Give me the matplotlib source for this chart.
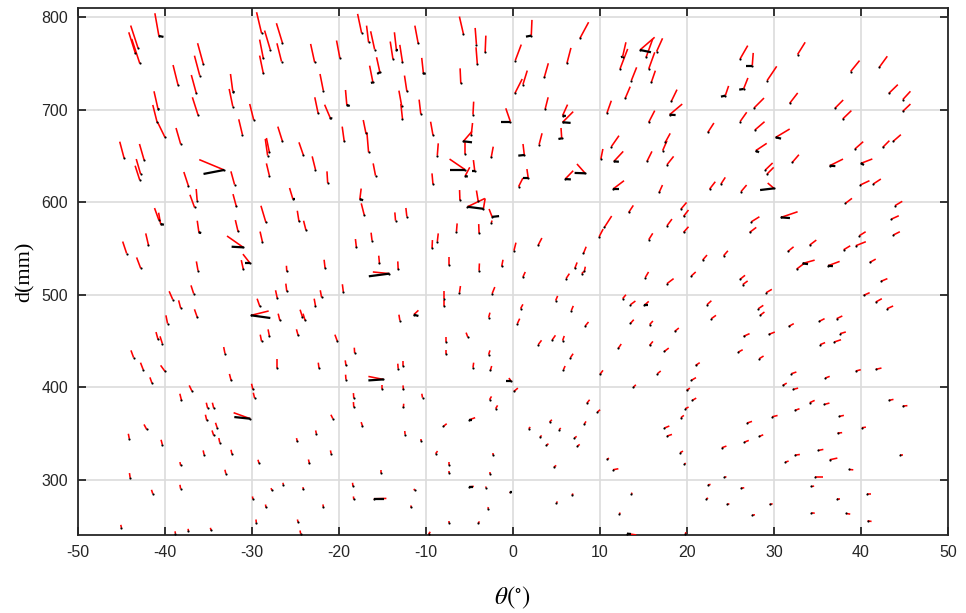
import numpy as np
import matplotlib.pyplot as plt
from matplotlib.collections import LineCollection

# vertex position (theta in deg, d in mm) and the red offset vector at each vertex
theta = [
    -40.7, -43.1, -43.4, -42.9, -35.6, -36.0, -38.5, -36.4, -32.2, -32.2,
    -36.2, -40.8, -40.9, -40.0, -38.2, -31.1, -29.8, -28.9, -27.9, -26.5,
    -28.7, -28.7, -26.6, -22.8, -19.9, -21.8, -19.1, -17.4, -22.4, -21.0,
    -26.5, -28.2, -28.0, -28.0, -24.1, -22.7, -21.3, -19.4, -16.9, -44.7,
    -42.4, -42.8, -42.9, -33.2, -32.0, -37.3, -36.3, -36.6, -31.8, -25.3,
    -28.4, -24.6, -23.8, -40.7, -40.5, -36.1, -31.6, -28.8, -41.9, -44.4,
    -42.8, -31.0, -30.2, -17.6, -17.1, -18.0, -21.6, -26.0, -31.0, -36.2,
    # -17 .. 16 deg, upper half
    -16.6, -15.9, -16.6, -13.8, -13.4, -12.7, -10.9, -15.3, -16.1, -12.2,
    -10.3, -12.8, -12.7, -10.6, -15.8, -5.7, -4.2, -3.2, -4.1, -6.0,
    -4.6, -0.3, -9.2, -4.8, -5.7, -5.5, -8.7, -2.5, -5.5, -4.4,
    -5.5, -9.2, -6.1, -5.23, -3.4, -4.0, -2.4, -2.5, -13.5, -12.2,
    -16.2, -15.35, -13.2, -6.5, -3.9, -8.7, -9.3, -7.3, -3.9, -1.3,
    2.1, 7.7, 0.26, 6.2, 3.6, 1.14, 0.22, 3.7, 5.7, 5.7,
    3.0, 5.6, 1.3, 1.75, 0.64, 8.3, 6.0, 12.6, 12.3, 13.6,
    12.9, 14.6, 15.3, 15.6, 15.9, 10.8, 15.6, 11.3, 11.6, 10.1,
    15.4, 11.5, 13.3, 10.5, 9.9, 15.6, 2.9, 0.11, 8.1, 7.1,
    8.2,
    # 16 .. 45 deg, upper half
    16.5, 26.1, 27.5, 32.7, 38.8, 42.1, 29.2, 26.5, 24.4, 18.2,
    31.8, 27.7, 18.0, 37.0, 37.9, 43.2, 44.8, 44.8, 26.1, 22.4,
    27.8, 30.2, 17.5, 17.2, 27.9, 32.1, 17.7, 29.0, 29.2, 39.3,
    43.7, 42.5, 36.4, 40.0, 16.8, 22.6, 23.9, 26.2, 30.0, 39.9,
    41.4, 38.2, 43.9, 19.3, 19.6, 17.7, 19.6, 27.4, 27.2, 30.8,
    43.5, 39.8, 43.7, 39.4, 34.1, 38.0, 31.6, 24.2, 21.8, 33.3,
    32.6, 36.2, 41.0,
    # -50 .. -17 deg, lower half
    -36.7, -39.1, -38.2, -36.3, -39.7, -40.8, -40.3, -43.6, -42.5, -40.0,
    -41.5, -26.0, -27.1, -22.0, -22.7, -19.5, -29.1, -30.1, -26.8, -24.2,
    -23.9, -28.9, -28.0, -24.7, -20.2, -33.1, -27.1, -22.3, -19.2, -18.2,
    -19.2, -32.4, -36.9, -29.9, -29.7, -38.1, -35.1, -34.4, -30.2, -35.2,
    -34.0, -34.4, -33.7, -42.1, -44.1, -40.3, -35.5, -32.3, -38.2, -33.0,
    -44.0, -41.4, -38.2, -45.0, -38.8, -37.3, -34.7, -29.2, -23.4, -20.9,
    -24.8, -22.6, -20.7, -18.3, -18.3, -17.3, -27.7, -26.4, -24.1, -18.4,
    -18.3, -29.9, -28.4, -21.8, -29.5, -24.7, -24.4,
    # -17 .. 16 deg, lower half
    -14.2, -7.9, -7.9, -6.15, -2.4, -11.4, -13.0, -2.8, -5.2, -7.7,
    -7.7, -2.8, -13.2, -12.6, -4.6, -2.6, -14.9, -15.0, -12.6, -0.2,
    0.1, -10.4, -2.7, -2.0, -12.6, -5.0, -8.0, -12.4, -10.6, -8.9,
    -2.3, -7.4, -7.4, -2.6, -15.2, -16.0, -11.3, -5.0, -3.1, -0.4,
    -11.7, -2.9, -7.3, -4.0, -9.7, 1.14, 6.1, 7.9, 15.2, 4.9,
    0.87, 6.7, 0.5, 8.3, 12.6, 13.5, 15.1, 13.5, 15.7, 2.9,
    4.5, 5.7, 6.6, 5.8, 12.1, 15.7, 10.0, 13.85, 8.5, 9.7,
    4.2, 8.2, 1.8, 5.3, 3.1, 7.05, 3.85, 7.4, 10.8, 11.5,
    4.7, 6.75, 5.0, 13.6, 12.2, 13.1,
    # 16 .. 45 deg, lower half
    17.7, 20.5, 26.1, 26.4, 29.1, 42.3, 40.3, 41.7, 43.0, 22.3,
    28.2, 28.4, 22.8, 31.7, 35.2, 37.2, 18.6, 26.5, 29.4, 37.6,
    35.3, 36.9, 17.4, 25.9, 28.3, 21.0, 16.6, 20.5, 32.0, 35.9,
    39.4, 41.7, 31.0, 32.2, 19.95, 20.6, 19.8, 19.3, 34.1, 35.8,
    43.2, 44.8, 32.4, 29.8, 37.5, 26.9, 17.4, 17.7, 28.3, 26.6,
    37.3, 40.1, 24.0, 19.2, 19.7, 32.4, 35.1, 36.4, 31.3, 38.65,
    44.45, 34.7, 24.3, 22.4, 26.2, 22.2, 24.6, 29.5, 27.5, 34.3,
    37.2, 40.7, 34.3, 38.3, 40.75, 19.8,
]

d = [
    779.8, 766.8, 761.0, 750.2, 749.5, 736.8, 726.7, 717.7, 719.5, 703.3,
    694.3, 700.8, 686.3, 670.1, 662.9, 673.0, 688.9, 782.7, 765.0, 772.2,
    755.6, 739.4, 752.0, 751.3, 756.0, 720.6, 705.1, 783.0, 696.1, 691.0,
    665.8, 650.3, 653.9, 628.6, 651.0, 635.1, 620.7, 665.8, 674.4, 647.7,
    645.6, 630.4, 623.9, 634.8, 618.9, 617.4, 601.6, 594.3, 595.4, 603.4,
    578.1, 579.2, 569.8, 580.6, 576.3, 567.3, 568.3, 557.0, 553.6, 544.4,
    528.7, 551.1, 533.7, 603.2, 586.1, 551.1, 528.7, 525.1, 527.6, 525.8,
    653.9, 765.0, 772.9, 754.9, 764.6, 751.3, 771.8, 740.5, 729.6, 719.9,
    739.4, 704.4, 690.0, 695.4, 628.6, 781.9, 770.4, 762.1, 749.5, 728.5,
    694.6, 687.1, 672.6, 672.6, 665.8, 652.1, 650.3, 648.5, 635.1, 634.0,
    628.3, 619.6, 602.3, 595.0, 592.8, 601.0, 584.1, 577.6, 579.9, 584.3,
    558.3, 533.8, 527.6, 568.0, 566.6, 557.2, 550.3, 532.3, 525.8, 530.5,
    780.1, 777.3, 753.1, 750.2, 735.0, 727.1, 717.7, 700.8, 693.6, 686.4,
    662.2, 669.0, 651.0, 626.1, 616.7, 631.2, 625.0, 757.4, 744.1, 731.4,
    712.3, 764.6, 756.7, 744.1, 729.6, 696.4, 686.4, 660.0, 644.1, 646.7,
    644.1, 614.2, 588.9, 572.7, 562.6, 559.4, 553.6, 547.5, 544.6, 528.3,
    525.1,
    762.8, 754.9, 747.7, 759.6, 741.2, 745.9, 731.4, 722.4, 715.2, 709.1,
    706.9, 701.8, 694.6, 701.5, 690.0, 717.7, 710.9, 698.2, 687.1, 675.5,
    678.0, 670.1, 664.7, 655.7, 655.7, 643.0, 640.5, 634.8, 630.4, 657.5,
    665.8, 659.3, 639.4, 642.0, 610.6, 614.2, 619.6, 611.3, 614.9, 618.5,
    619.6, 598.7, 596.2, 592.5, 584.6, 574.5, 567.3, 578.8, 567.3, 583.5,
    581.7, 563.7, 564.4, 552.9, 553.6, 548.5, 546.7, 542.0, 537.4, 533.7,
    527.6, 531.2, 534.8,
    501.0, 494.6, 485.5, 475.8, 468.6, 451.6, 447.0, 431.8, 418.8, 417.0,
    404.4, 503.6, 496.4, 497.1, 487.7, 502.9, 487.3, 477.6, 472.2, 475.8,
    472.2, 449.5, 455.2, 456.0, 449.8, 436.1, 420.6, 420.6, 423.5, 436.8,
    408.0, 407.3, 395.7, 397.5, 388.1, 385.6, 377.3, 377.3, 365.8, 364.0,
    356.0, 347.7, 339.8, 354.2, 344.1, 337.6, 326.8, 327.5, 315.3, 306.3,
    301.9, 284.6, 290.0, 247.8, 241.5, 244.2, 244.9, 317.8, 317.4, 327.9,
    341.2, 349.5, 365.8, 388.1, 378.4, 357.8, 288.2, 294.3, 289.3, 292.9,
    278.5, 278.8, 269.8, 270.2, 253.2, 253.9, 241.3,
    522.7, 495.6, 487.3, 502.1, 501.0, 478.3, 471.8, 475.1, 454.2, 448.7,
    435.4, 435.0, 419.9, 422.8, 421.0, 418.1, 408.3, 398.2, 397.5, 406.2,
    395.3, 388.5, 386.3, 376.6, 378.0, 364.7, 357.5, 348.5, 341.2, 327.9,
    326.1, 316.0, 307.0, 305.9, 307.3, 279.2, 288.2, 292.2, 291.1, 286.0,
    269.8, 268.4, 252.9, 252.9, 241.0, 519.1, 517.3, 522.7, 518.4, 493.5,
    484.8, 482.7, 468.6, 466.1, 495.6, 489.1, 488.4, 468.9, 467.5, 445.9,
    450.9, 450.2, 431.8, 418.8, 441.9, 445.1, 413.8, 400.0, 382.7, 373.0,
    362.2, 360.0, 355.0, 353.9, 345.9, 344.9, 337.3, 336.2, 321.8, 310.6,
    313.5, 283.5, 274.9, 284.6, 263.0, 241.5,
    511.9, 520.2, 516.6, 510.8, 502.1, 514.4, 499.2, 492.0, 484.8, 489.1,
    484.8, 477.6, 474.0, 465.7, 471.1, 474.0, 460.3, 454.9, 457.0, 457.8,
    445.9, 448.7, 438.6, 437.9, 430.7, 423.5, 414.5, 407.3, 414.5, 409.8,
    417.4, 419.2, 401.8, 397.5, 396.4, 385.6, 376.6, 366.9, 383.1, 381.3,
    385.6, 379.5, 374.8, 367.9, 368.3, 361.1, 355.7, 347.0, 346.6, 340.5,
    350.3, 356.0, 334.4, 329.0, 316.7, 326.4, 331.5, 321.4, 318.9, 310.9,
    326.1, 302.6, 302.6, 294.3, 290.7, 279.2, 273.1, 273.1, 261.5, 292.5,
    279.2, 283.9, 264.0, 263.3, 255.4, 241.3,
]

red_dt = [
    -0.46, -0.84, -0.76, -0.92, -0.65, -0.61, -0.57, -0.57, -0.27, -0.42,
    -0.65, -0.46, -0.50, -0.84, -0.53, -0.42, -0.46, -0.57, -0.65, -0.69,
    -0.42, -0.42, -0.53, -0.46, -0.38, -0.38, -0.15, -0.46, -0.38, -0.65,
    -0.53, -0.27, -0.34, -0.34, -0.50, -0.38, -0.08, -0.23, -0.31, -0.50,
    -0.53, -0.50, -0.53, -2.86, -0.42, -0.53, -0.11, -0.53, -0.38, -0.38,
    -0.57, -0.19, -0.27, -0.50, -0.23, -0.19, -0.31, -0.27, -0.31, -0.46,
    -0.46, -1.87, -0.84, 0.15, -0.34, -0.11, -0.11, -0.04, -0.23, -0.19,
    -0.19, -0.46, -0.23, -0.31, -0.23, -0.31, -0.38, -0.38, -0.38, -0.27,
    -0.19, -0.31, -0.19, -0.19, -0.27, -0.46, -0.15, 0.08, -0.15, -0.08,
    0.08, -0.53, -0.27, 0.15, 0.99, 0.00, 0.11, 0.23, -1.79, -0.15,
    0.53, -0.11, -0.04, 2.00, 0.20, -0.20, -0.35, 0.10, -0.08, -0.11,
    -0.11, -0.08, -0.04, 0.08, -0.04, 0.11, 0.04, 0.00, 0.04, 0.15,
    0.08, 0.99, 0.69, 0.46, 0.46, 0.50, 0.84, 0.34, 0.57, 1.22,
    0.34, -0.08, -0.15, -0.15, 0.50, -0.95, 0.92, 0.38, 0.88, 0.61,
    0.57, 1.68, 0.76, 0.69, 0.46, 0.50, 0.69, 0.88, 1.07, 0.23,
    0.57, 1.26, 0.53, 0.84, 0.46, 0.46, 0.42, 0.23, 0.31, 0.27,
    0.11,
    0.69, 0.88, 0.11, 0.88, 1.03, 0.92, 1.11, 0.50, 0.38, 0.65,
    0.92, 1.15, 1.45, 0.95, 0.99, 1.03, 0.88, 0.88, 0.76, 0.69,
    1.11, 1.60, 0.57, 0.50, 1.26, 0.76, 0.76, 0.84, 0.76, 0.95,
    0.88, 0.76, 1.53, 1.30, 0.38, 0.65, 0.50, 0.65, -0.73, 1.07,
    0.88, 0.76, 0.84, 0.65, 0.57, 0.57, 0.57, 0.92, 0.76, 1.91,
    0.84, 0.73, 0.76, 1.15, 0.76, 0.76, 0.65, 0.50, 0.50, 1.37,
    0.76, 1.34, 0.69,
    -0.31, -0.42, -0.23, -0.31, -0.19, -0.23, -0.27, -0.31, -0.31, -0.50,
    -0.23, -0.11, -0.19, -0.15, -0.15, -0.11, -0.31, 2.02, -0.19, -0.27,
    -0.23, -0.15, -0.15, -0.19, -0.27, -0.15, 0.00, -0.08, -0.08, -0.04,
    -0.04, -0.19, -0.31, -0.15, -0.15, -0.19, -0.15, -0.15, -1.91, -0.15,
    -0.19, -0.19, -0.11, -0.31, -0.11, -0.15, -0.11, -0.11, -0.08, -0.11,
    -0.08, -0.15, -0.08, -0.08, -0.04, -0.04, -0.08, -0.11, -0.11, -0.08,
    -0.08, -0.08, -0.23, -0.04, -0.04, -0.15, -0.11, -0.04, -0.04, -0.04,
    -0.04, -0.04, -0.04, -0.04, -0.04, -0.08, -0.08,
    -1.91, 0.00, 0.00, 0.11, 0.31, 0.53, -0.11, 0.15, -0.19, 0.00,
    0.00, 0.15, -0.04, 0.00, 0.08, 0.15, -1.72, 0.00, -0.04, -0.27,
    0.46, -0.08, 0.23, 0.23, 0.04, 0.65, 0.38, -0.04, 0.00, 0.23,
    0.00, 0.00, 0.00, 0.00, 0.00, 1.45, -0.08, 0.50, -0.04, 0.23,
    -0.04, 0.08, 0.00, 0.15, 0.19, 0.27, 0.38, 0.23, 0.38, 0.23,
    0.27, 0.23, 0.27, 0.38, 0.38, 0.57, 0.50, 0.38, 0.38, 0.38,
    0.38, 0.19, 0.31, 0.19, 0.34, 0.38, 0.34, 0.27, 0.31, 0.31,
    0.27, 0.19, 0.19, 0.19, 0.19, 0.27, 0.23, 0.27, 0.23, 0.61,
    0.27, 0.19, 0.11, 0.11, 0.15, 1.07,
    0.76, 0.50, 0.57, 0.57, 0.65, 0.73, 0.69, 0.69, 0.69, 0.50,
    0.57, 0.50, 0.53, 0.57, 0.61, 0.65, 0.46, 0.69, 0.69, 0.65,
    0.57, 0.80, 0.50, 0.50, 0.50, 0.46, 0.38, 0.53, 0.57, 0.50,
    0.57, 0.65, 0.46, 0.57, 0.38, 0.46, 0.38, 0.34, 0.57, 0.57,
    0.53, 0.53, 0.53, 0.61, 0.53, 0.57, 0.57, 0.57, 0.46, 0.50,
    0.53, 0.46, 0.53, 0.34, 0.15, 0.57, 0.57, 0.88, 0.38, 0.46,
    0.38, 0.95, 0.23, 0.31, 0.38, 0.23, 0.27, 0.34, 0.31, 0.31,
    0.38, 0.42, 0.38, 0.46, 0.46, 0.08,
]

red_dd = [
    24.5, 24.2, 22.7, 26.3, 22.4, 21.6, 21.6, 19.8, 19.1, 19.1,
    19.1, 19.1, 18.8, 16.2, 17.3, 16.6, 17.3, 22.7, 20.6, 21.3,
    20.2, 19.1, 19.8, 19.8, 18.8, 18.0, 16.2, 20.6, 17.3, 14.4,
    15.9, 18.0, 15.5, 13.3, 13.7, 14.4, 12.6, 15.9, 14.4, 17.7,
    17.3, 16.2, 15.5, 11.2, 14.4, 15.2, 12.6, 13.7, 13.3, 11.9,
    18.0, 11.5, 10.1, 13.0, 12.3, 12.6, 12.3, 11.2, 12.6, 13.0,
    11.5, 12.3, 10.1, 11.5, 12.6, 9.0, 9.0, 6.1, 9.7, 10.1,
    21.6, 19.8, 18.0, 18.8, 19.1, 18.8, 19.1, 16.2, 18.0, 17.0,
    16.6, 16.2, 16.2, 15.5, 13.3, 18.8, 18.0, 18.0, 18.0, 16.2,
    14.1, 14.4, 14.4, 13.0, 10.8, 12.6, 13.3, 11.5, 11.5, 11.5,
    9.4, 11.5, 10.8, 9.0, 11.2, 11.6, 8.5, 2.5, 9.0, 9.4,
    8.7, 8.3, 8.3, 9.0, 9.7, 9.0, 8.7, 7.9, 7.9, 7.2,
    17.0, 17.3, 17.3, 16.6, 15.2, 15.2, 15.5, 12.6, 11.9, 11.5,
    12.3, 11.2, 11.9, 9.7, 9.4, 10.1, 9.0, 15.5, 21.6, 14.4,
    12.6, 13.7, 19.8, 18.0, 12.6, 13.3, 12.6, 11.9, 10.8, 10.8,
    10.8, 9.0, 7.6, 12.3, 8.3, 6.9, 7.6, 8.7, 7.2, 6.5,
    5.1,
    14.4, 14.4, 13.7, 13.3, 11.9, 11.9, 15.5, 11.9, 10.5, 12.6,
    11.2, 10.8, 11.5, 9.0, 9.0, 9.4, 9.0, 7.9, 10.1, 10.1,
    9.0, 9.0, 9.7, 10.8, 7.9, 8.3, 9.0, 7.6, 7.2, 7.9,
    7.2, 7.2, 7.2, 4.7, 7.9, 7.9, 7.2, 7.2, 5.8, 4.7,
    5.4, 5.4, 4.7, 7.2, 6.9, 7.2, 6.1, 5.4, 5.4, 6.1,
    3.6, 4.3, 3.6, 4.3, 5.4, 4.3, 5.0, 5.4, 5.4, 3.6,
    5.4, 4.7, 3.6,
    9.0, 9.0, 8.3, 8.3, 9.0, 7.9, 7.9, 7.9, 7.6, 6.5,
    6.1, 8.3, 8.3, 7.6, 7.9, 8.3, 8.3, 4.7, 7.2, 7.9,
    7.2, 7.2, 7.2, 6.5, 6.9, 7.2, 9.4, 5.8, 5.4, 5.8,
    5.4, 6.9, 6.1, 6.1, 5.8, 7.2, 5.8, 5.8, 6.5, 6.1,
    5.4, 5.4, 5.1, 5.4, 5.4, 5.4, 4.7, 4.7, 3.6, 4.3,
    5.1, 4.3, 4.3, 3.2, 2.5, 2.5, 2.9, 3.6, 4.3, 3.6,
    3.6, 3.6, 4.3, 5.4, 5.4, 4.3, 2.5, 2.2, 2.5, 3.6,
    3.2, 2.9, 3.2, 2.9, 3.6, 2.9, 3.6,
    1.8, 7.9, 6.5, 7.2, 7.2, 4.7, 6.5, 5.4, 4.7, 5.4,
    5.1, 4.7, 5.4, 5.8, 5.4, 4.7, 3.2, 4.3, 4.3, 3.6,
    3.6, 4.3, 3.6, 3.6, 4.0, 2.2, 2.9, 4.0, 2.9, 2.9,
    2.5, 2.9, 2.2, 2.2, 3.2, 0.4, 1.8, 0.4, 1.4, 0.4,
    2.2, 1.8, 1.8, 1.8, 2.5, 5.4, 5.4, 2.2, 6.1, 5.1,
    4.7, 5.1, 5.4, 4.3, 4.3, 4.0, 4.3, 4.0, 4.0, 4.7,
    5.1, 5.1, 4.3, 4.0, 4.7, 4.3, 4.3, 2.5, 3.6, 2.5,
    2.5, 2.9, 1.8, 1.8, 1.8, 1.8, 1.4, 1.8, 1.4, 1.1,
    1.8, 1.1, 1.4, 1.1, 1.1, -1.4,
    5.4, 4.3, 4.3, 4.0, 3.6, 2.9, 2.9, 3.6, 2.9, 4.3,
    3.6, 3.6, 3.6, 2.9, 2.9, 2.9, 3.6, 2.9, 2.5, 1.8,
    2.2, 2.5, 3.6, 2.5, 2.9, 2.9, 2.9, 2.9, 1.8, 1.8,
    1.4, 1.4, 2.5, 1.4, 2.5, 2.5, 1.8, 2.5, 2.5, 1.4,
    1.1, 0.4, 1.8, 1.4, 1.1, 1.8, 2.2, 1.8, 1.8, 1.8,
    0.4, 0.7, 1.8, 1.8, 1.1, 0.7, 1.1, 1.8, 1.1, -0.4,
    0.0, 0.0, 0.4, 0.4, 0.4, 0.7, 0.7, 0.7, 0.4, 0.4,
    0.0, 0.0, -0.4, -0.7, -0.7, 1.8,
]

# black offset vectors, only where they are long enough to show
blk_theta = [
    -40.7, -32.2, -40.8, -19.1, -21.0, -33.2, -25.3, -40.5, -36.1, -31.0,
    -30.2, -17.6, -13.4, -15.3, -16.1, -10.3, -0.3, -5.7, -5.5, -4.4,
    -5.5, -5.23, -2.4, 2.1, 5.7, 5.7, 5.6, 1.3, 1.75, 8.3,
    6.0, 12.6, 14.6, 11.6, 11.5, 27.5, 26.5, 24.4, 18.0, 30.2,
    27.9, 36.4, 40.0, 30.0, 30.8, 33.3, 36.2, -30.1, -30.2, -14.2,
    -11.4, -14.9, -0.2, -5.0, -16.0, -5.0, -0.4, 15.1, 13.1,
]
blk_d = [
    779.8, 719.5, 700.8, 705.1, 691.0, 634.8, 603.4, 576.3, 567.3, 551.1,
    533.7, 603.2, 764.6, 740.5, 729.6, 739.4, 687.1, 665.8, 635.1, 634.0,
    628.3, 595.0, 584.1, 780.1, 693.6, 686.4, 669.0, 651.0, 626.1, 631.2,
    625.0, 757.4, 764.6, 644.1, 614.2, 747.7, 722.4, 715.2, 694.6, 670.1,
    655.7, 639.4, 642.0, 614.9, 583.5, 533.7, 531.2, 477.6, 365.8, 522.7,
    478.3, 408.3, 406.2, 364.7, 279.2, 292.2, 286.0, 488.4, 241.5,
]
blk_dt = [
    0.53, 0.19, 0.15, 0.34, 0.23, -2.37, 0.19, 0.38, 0.27, -1.34,
    -0.57, 0.38, 0.19, -0.31, -0.23, 0.27, -1.03, 0.99, -1.79, -0.30,
    0.31, 1.83, 0.80, -0.61, 0.38, 0.92, -0.38, -0.69, -0.61, -1.22,
    0.65, -0.19, 1.26, 0.57, 0.69, -0.76, -0.50, -0.50, 0.69, 0.61,
    0.38, 0.65, 0.34, -1.60, 1.03, 0.61, 0.57, 2.21, -1.83, -2.37,
    0.53, -1.72, -0.57, 0.30, 1.15, 0.46, 0.30, 0.38, 0.46,
]
blk_dd = [
    -1.1, -0.7, -0.7, -1.1, -0.7, -4.3, 0.0, -0.7, -0.7, 0.7,
    0.0, -1.1, 0.0, -1.8, -0.7, -0.7, 0.0, -1.1, 0.0, 0.0,
    -0.7, -2.2, 0.8, -1.1, -0.4, -0.7, -0.7, -0.7, 0.0, 0.4,
    -0.4, -0.7, -2.5, -0.4, 0.0, 0.0, -0.7, -1.1, -0.4, -1.4,
    -1.8, -0.4, -1.8, -1.8, -0.7, -0.7, -0.4, -2.9, 1.8, -2.9,
    -1.4, -1.1, 0.0, 0.0, 0.0, 0.0, 0.0, 0.0, -0.4,
]

x_ticks = [-50, -40, -30, -20, -10, 0, 10, 20, 30, 40, 50]
y_ticks = [300, 400, 500, 600, 700, 800]


def segments(x, y, dx, dy):
    x = np.asarray(x)
    y = np.asarray(y)
    start = np.column_stack([x, y])
    end = np.column_stack([x + np.asarray(dx), y + np.asarray(dy)])
    return np.stack([start, end], axis=1)


plt.rcParams['mathtext.fontset'] = 'stix'
plt.rcParams['axes.unicode_minus'] = False
fig = plt.figure(figsize=(9.66, 6.13), dpi=100)
ax = fig.add_axes([0.0807, 0.1272, 0.9007, 0.8598])

ax.add_collection(LineCollection(segments(theta, d, red_dt, red_dd),
                                 colors='#ff0000', linewidths=1.15, zorder=3))
ax.add_collection(LineCollection(segments(blk_theta, blk_d, blk_dt, blk_dd),
                                 colors='black', linewidths=1.6, zorder=4))
ax.scatter(theta, d, s=2.5, color='black', linewidths=0, zorder=5)

ax.set_xlim(-50, 50)
ax.set_ylim(240, 810)
ax.set_xticks(x_ticks)
ax.set_yticks(y_ticks)
ax.grid(True, color='#dcdcdc', linewidth=1.2)
ax.set_axisbelow(True)

for side in ax.spines.values():
    side.set_color('#262626')
    side.set_linewidth(1.3)
ax.tick_params(direction='in', length=6, width=1.3, colors='#262626',
               top=True, right=True, labelsize=11.5, pad=7)
for lab in ax.get_xticklabels() + ax.get_yticklabels():
    lab.set_family('Liberation Sans')

ax.set_ylabel('d(mm)', family='Liberation Serif', fontsize=16)
ax.yaxis.set_label_coords(-0.05, 0.5)
ax.set_xlabel(r'$\theta(^{\circ})$', fontsize=18)
ax.xaxis.set_label_coords(0.5, -0.095)

fig.savefig('out.png', dpi=100)
